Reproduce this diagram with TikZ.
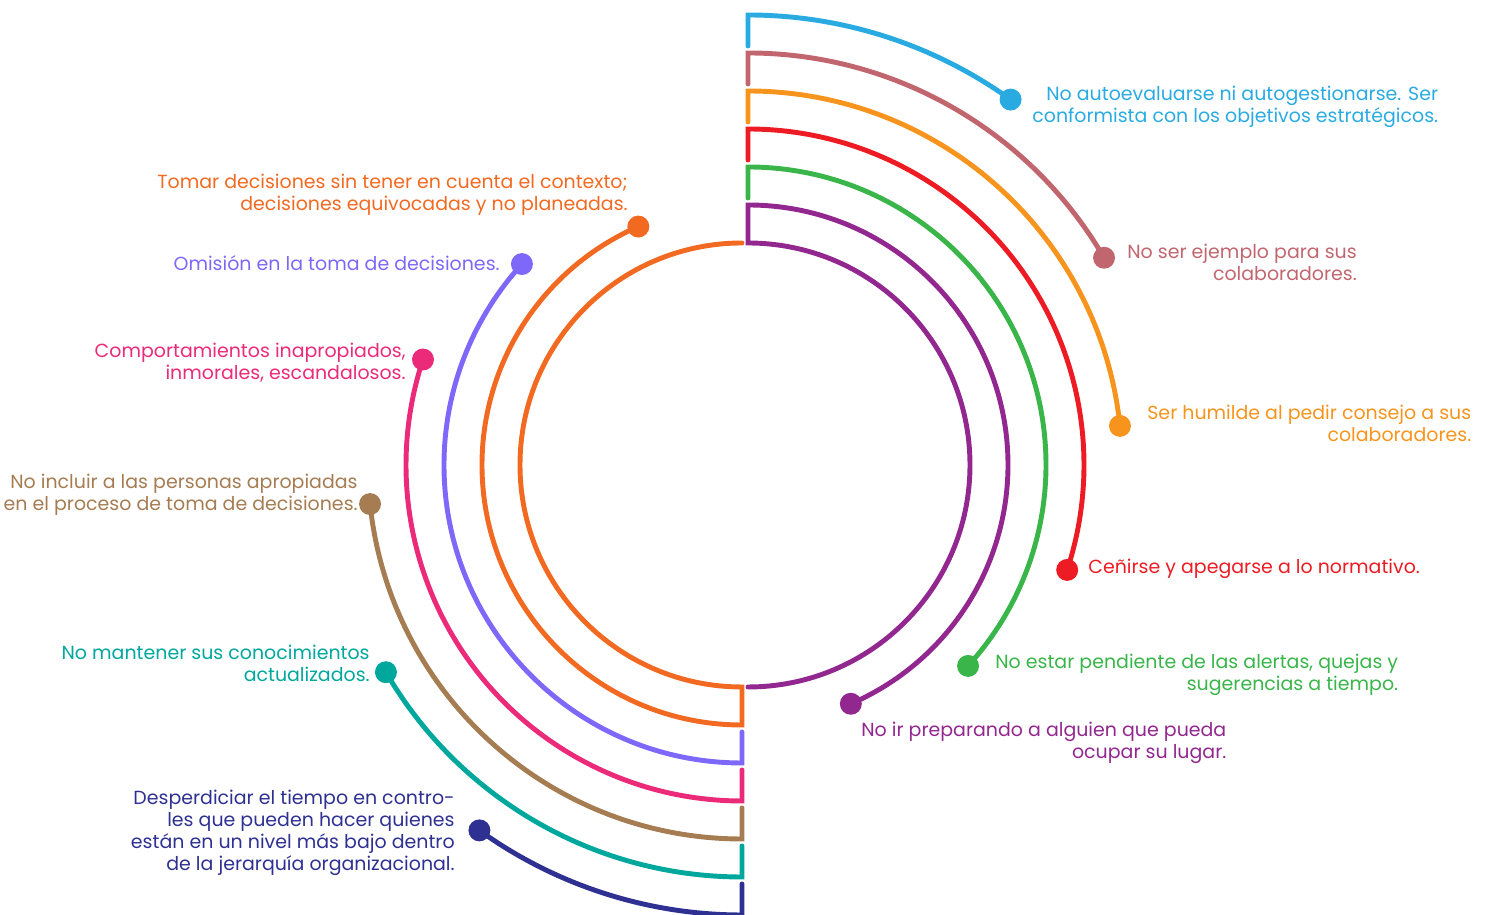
\documentclass[tikz,border=0pt]{standalone}
\usepackage{fontspec}
\setmainfont{Poppins}
\usetikzlibrary{calc}
\definecolor{cblue}{HTML}{29ABE2}
\definecolor{crose}{HTML}{C1666F}
\definecolor{camber}{HTML}{F7941D}
\definecolor{cred}{HTML}{ED1C24}
\definecolor{cgreen}{HTML}{39B54A}
\definecolor{cplum}{HTML}{92278F}
\definecolor{corange}{HTML}{F26A21}
\definecolor{cviolet}{HTML}{7D68FA}
\definecolor{cpink}{HTML}{EC2A7A}
\definecolor{cbrown}{HTML}{A67C52}
\definecolor{cteal}{HTML}{00A79D}
\definecolor{cnavy}{HTML}{2E3192}

\begin{document}
\begin{tikzpicture}[
  x=0.02cm, y=0.02cm,
  arm/.style={line width=2.8pt, line cap=round, draw=#1},
  dot/.style={circle, fill=#1, inner sep=0pt, minimum size=12.5pt},
  note/.style={text=#1, inner sep=0pt, align=right, font=\fontsize{10.8}{12.5}\selectfont}
]
  \useasboundingbox (0,0) rectangle (1489,915);
  \coordinate (cr) at (748,450);
  \coordinate (cl) at (742,450);

  % right half, hanging from the top
  \draw[arm=cplum] ($(cr)+(0,-222)$) arc[start angle=-90, end angle=90, radius=222]
    -- ($(cr)+(0,260)$) arc[start angle=90, end angle=-66.7, radius=260] node[dot=cplum] (plum) {};
  \draw[arm=cgreen] ($(cr)+(0,267)$) -- ($(cr)+(0,298)$) arc[start angle=90, end angle=-42.4, radius=298] node[dot=cgreen] (green) {};
  \draw[arm=cred] ($(cr)+(0,305)$) -- ($(cr)+(0,336)$) arc[start angle=90, end angle=-18.2, radius=336] node[dot=cred] (red) {};
  \draw[arm=camber] ($(cr)+(0,343)$) -- ($(cr)+(0,374)$) arc[start angle=90, end angle=6, radius=374] node[dot=camber] (amber) {};
  \draw[arm=crose] ($(cr)+(0,381)$) -- ($(cr)+(0,412)$) arc[start angle=90, end angle=30.2, radius=412] node[dot=crose] (rose) {};
  \draw[arm=cblue] ($(cr)+(0,419)$) -- ($(cr)+(0,450)$) arc[start angle=90, end angle=54.3, radius=450] node[dot=cblue] (blue) {};

  % left half, standing on the bottom
  \draw[arm=corange] ($(cl)+(0,222)$) arc[start angle=90, end angle=270, radius=222]
    -- ($(cl)+(0,-260)$) arc[start angle=270, end angle=113.5, radius=260] node[dot=corange] (orange) {};
  \draw[arm=cviolet] ($(cl)+(0,-267)$) -- ($(cl)+(0,-298)$) arc[start angle=270, end angle=137.6, radius=298] node[dot=cviolet] (violet) {};
  \draw[arm=cpink] ($(cl)+(0,-305)$) -- ($(cl)+(0,-336)$) arc[start angle=270, end angle=161.7, radius=336] node[dot=cpink] (pink) {};
  \draw[arm=cbrown] ($(cl)+(0,-343)$) -- ($(cl)+(0,-374)$) arc[start angle=270, end angle=186, radius=374] node[dot=cbrown] (brown) {};
  \draw[arm=cteal] ($(cl)+(0,-381)$) -- ($(cl)+(0,-412)$) arc[start angle=270, end angle=210.2, radius=412] node[dot=cteal] (teal) {};
  \draw[arm=cnavy] ($(cl)+(0,-419)$) -- ($(cl)+(0,-450)$) arc[start angle=270, end angle=234.3, radius=450] node[dot=cnavy] (navy) {};

  \node[note=cblue, anchor=west] (bluetext) at (1032,808) {No autoevaluarse ni autogestionarse. Ser\\conformista con los objetivos estratégicos.};
  \node[note=crose, anchor=west] (rosetext) at (1127,653) {No ser ejemplo para sus\\colaboradores.};
  \node[note=camber, anchor=west] (ambertext) at (1147,492) {Ser humilde al pedir consejo a sus\\colaboradores.};
  \node[note=cred, anchor=west] (redtext) at (1088,346) {Ceñirse y apegarse a lo normativo.};
  \node[note=cgreen, anchor=west] (greentext) at (995,240) {No estar pendiente de las alertas, quejas y\\sugerencias a tiempo.};
  \node[note=cplum, anchor=west] (plumtext) at (861,172) {No ir preparando a alguien que pueda\\ocupar su lugar.};

  \node[note=corange, anchor=east] (orangetext) at (628,720) {Tomar decisiones sin tener en cuenta el contexto;\\decisiones equivocadas y no planeadas.};
  \node[note=cviolet, anchor=east] (violettext) at (500,652) {Omisión en la toma de decisiones.};
  \node[note=cpink, anchor=east] (pinktext) at (406,552) {Comportamientos inapropiados,\\inmorales, escandalosos.};
  \node[note=cbrown, anchor=east] (browntext) at (358,420) {No incluir a las personas apropiadas\\en el proceso de toma de decisiones.};
  \node[note=cteal, anchor=east] (tealtext) at (370,251.5) {No mantener sus conocimientos\\actualizados.};
  \node[note=cnavy, anchor=east] (navytext) at (455,82.5) {Desperdiciar el tiempo en contro-\\les que pueden hacer quienes\\están en un nivel más bajo dentro\\de la jerarquía organizacional.};
\end{tikzpicture}
\end{document}
